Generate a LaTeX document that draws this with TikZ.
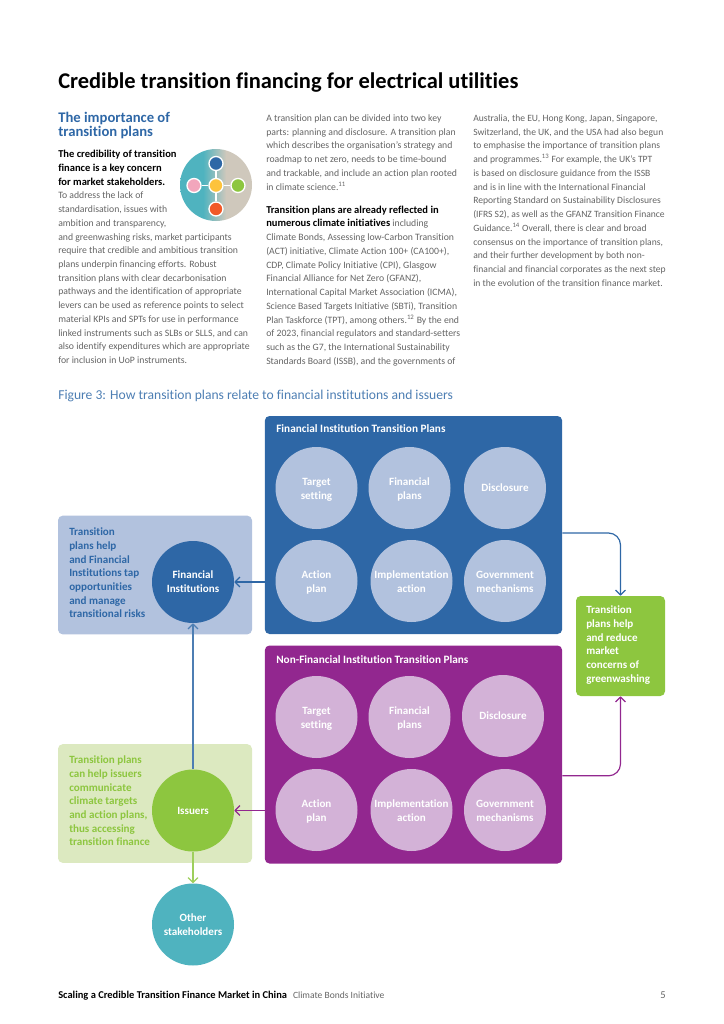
\documentclass[tikz,border=0pt]{standalone}
\usepackage{fontspec}
\setmainfont{Carlito}[Ligatures=NoCommon]
\usepackage{xcolor}
\usepackage{tikz}
\usetikzlibrary{shapes,arrows.meta,positioning,calc}
\definecolor{fiblue}{RGB}{46,103,166}
\definecolor{filight}{RGB}{178,194,222}
\definecolor{nfpurple}{RGB}{146,39,143}
\definecolor{nflight}{RGB}{211,178,215}
\definecolor{isgreen}{RGB}{141,198,63}
\definecolor{islight}{RGB}{220,233,192}
\definecolor{otherteal}{RGB}{79,179,191}
\definecolor{iconbeige}{RGB}{207,200,188}
\definecolor{iconpink}{RGB}{242,166,188}
\definecolor{iconyellow}{RGB}{253,195,60}
\definecolor{iconorange}{RGB}{241,90,41}
\definecolor{bodygrey}{RGB}{100,100,100}
\pgfdeclarehorizontalshading{iconshade}{100bp}{color(0bp)=(otherteal); color(41bp)=(otherteal); color(57bp)=(iconbeige); color(100bp)=(iconbeige)}
\newcommand{\leadin}[1]{{\fontsize{7.9}{10.3}\selectfont\bfseries\color{black}#1}}
\newcommand{\plantext}[2]{\raisebox{-3.6pt}[0pt][0pt]{\begin{tabular}{@{}c@{}}#1\\#2\end{tabular}}}

\begin{document}
\begin{tikzpicture}[x=0.75pt, y=-0.75pt, >={Straight Barb[length=3.6pt,width=7.5pt]}]
  \tikzstyle{body} = [anchor=north west, inner sep=0, align=left, text=bodygrey, font=\fontsize{7.3}{10.3}\selectfont]
  \tikzstyle{panel} = [rectangle, rounded corners=3.5pt, minimum width=223pt, minimum height=163.5pt]
  \tikzstyle{sidepanel} = [rectangle, rounded corners=3.5pt, minimum width=145.5pt, minimum height=89pt]
  \tikzstyle{plan} = [circle, minimum size=61.5pt, inner sep=0, align=center, text=white, font=\fontsize{8.3}{10.4}\selectfont\bfseries]
  \tikzstyle{actor} = [circle, minimum size=61.5pt, inner sep=0, align=center, text=white, font=\fontsize{8.3}{10.4}\selectfont\bfseries]
  \tikzstyle{sidetext} = [anchor=north west, inner sep=0, align=left, font=\fontsize{8.3}{10.3}\selectfont\bfseries]
  \tikzstyle{panelhead} = [anchor=west, inner sep=0, text=white, font=\fontsize{8.45}{10}\selectfont\bfseries]
  \tikzstyle{dot} = [circle, draw=white, line width=1pt, minimum size=10.5pt, inner sep=0]
  \tikzstyle{link} = [line width=0.9pt, ->]

  \useasboundingbox (0,0) rectangle (724,1024);

  % page text
  \node[anchor=base west, inner sep=0, font=\fontsize{16.85}{18}\selectfont\bfseries] (title) at (58,89) {Credible transition financing for electrical utilities};
  \node[anchor=north west, inner sep=0, align=left, text=fiblue, font=\fontsize{11}{10.7}\selectfont\bfseries] (head) at (58,111.5) {The importance of\\transition plans};
  \node[body] (col1) at (58,150) {\leadin{The credibility of transition}\\
    \leadin{finance is a key concern}\\
    \leadin{for market stakeholders.}\\
    To address the lack of\\
    standardisation, issues with\\
    ambition and transparency,\\
    and greenwashing risks, market participants\\
    require that credible and ambitious transition\\
    plans underpin financing efforts. Robust\\
    transition plans with clear decarbonisation\\
    pathways and the identification of appropriate\\
    levers can be used as reference points to select\\
    material KPIs and SPTs for use in performance\\
    linked instruments such as SLBs or SLLS, and can\\
    also identify expenditures which are appropriate\\
    for inclusion in UoP instruments.};
  \node[body] (col2a) at (266,114.5) {A transition plan can be divided into two key\\
    parts: planning and disclosure. A transition plan\\
    which describes the organisation's strategy and\\
    roadmap to net zero, needs to be time-bound\\
    and trackable, and include an action plan rooted\\
    in climate science.\textsuperscript{11}};
  \node[body] (col2b) at (266,205.5) {\leadin{Transition plans are already reflected in}\\
    \leadin{numerous climate initiatives} including\\
    Climate Bonds, Assessing low-Carbon Transition\\
    (ACT) initiative, Climate Action 100+ (CA100+),\\
    CDP, Climate Policy Initiative (CPI), Glasgow\\
    Financial Alliance for Net Zero (GFANZ),\\
    International Capital Market Association (ICMA),\\
    Science Based Targets Initiative (SBTi), Transition\\
    Plan Taskforce (TPT), among others.\textsuperscript{12} By the end\\
    of 2023, financial regulators and standard-setters\\
    such as the G7, the International Sustainability\\
    Standards Board (ISSB), and the governments of};
  \node[body, font=\fontsize{7.2}{10.3}\selectfont] (col3) at (473,114.5) {Australia, the EU, Hong Kong, Japan, Singapore,\\
    Switzerland, the UK, and the USA had also begun\\
    to emphasise the importance of transition plans\\
    and programmes.\textsuperscript{13} For example, the UK's TPT\\
    is based on disclosure guidance from the ISSB\\
    and is in line with the International Financial\\
    Reporting Standard on Sustainability Disclosures\\
    (IFRS S2), as well as the GFANZ Transition Finance\\
    Guidance.\textsuperscript{14} Overall, there is clear and broad\\
    consensus on the importance of transition plans,\\
    and their further development by both non-\\
    financial and financial corporates as the next step\\
    in the evolution of the transition finance market.};
  \node[anchor=base west, inner sep=0, text=fiblue!85, font=\fontsize{10.2}{13}\selectfont] (figtitle) at (58,399) {Figure 3: How transition plans relate to financial institutions and issuers};

  % icon
  \node[circle, minimum size=54pt, inner sep=0, shading=iconshade] (icon) at (216,185) {};
  \node[dot, fill=iconyellow] (ic) at (216,185.5) {};
  \node[dot, fill=fiblue] (it) at (216,163.5) {};
  \node[dot, fill=iconorange] (ib) at (216,209) {};
  \node[dot, fill=iconpink] (il) at (194,185.5) {};
  \node[dot, fill=isgreen] (ir) at (238,185.5) {};
  \draw[white, line width=1pt] (it) -- (ic) -- (ib) (il) -- (ic) -- (ir);

  % panels
  \node[panel, fill=fiblue] (fipanel) at (413.5,525) {};
  \node[panel, fill=nfpurple] (nfpanel) at (413.5,754.5) {};
  \node[sidepanel, fill=filight] (fiside) at (155,575) {};
  \node[sidepanel, fill=islight] (isside) at (155,803.5) {};
  \node[panelhead] (fihead) at (276,429) {Financial Institution Transition Plans};
  \node[panelhead] (nfhead) at (276,660) {Non-Financial Institution Transition Plans};

  \node[plan, fill=filight] (fi1) at (316.5,488) {\plantext{Target}{setting}};
  \node[plan, fill=filight] (fi2) at (409.5,488) {\plantext{Financial}{plans}};
  \node[plan, fill=filight] (fi3) at (505,488) {Disclosure};
  \node[plan, fill=filight] (fi4) at (316.5,581) {\plantext{Action}{plan}};
  \node[plan, fill=filight] (fi5) at (411.5,581) {\plantext{Implementation}{action}};
  \node[plan, fill=filight] (fi6) at (505,581) {\plantext{Government}{mechanisms}};

  \node[plan, fill=nflight] (nf1) at (316.5,717) {\plantext{Target}{setting}};
  \node[plan, fill=nflight] (nf2) at (409.5,717) {\plantext{Financial}{plans}};
  \node[plan, fill=nflight] (nf3) at (503,716) {Disclosure};
  \node[plan, fill=nflight] (nf4) at (316.5,810) {\plantext{Action}{plan}};
  \node[plan, fill=nflight] (nf5) at (411.5,810) {\plantext{Implementation}{action}};
  \node[plan, fill=nflight] (nf6) at (505,810) {\plantext{Government}{mechanisms}};

  \node[actor, fill=fiblue] (fin) at (193,582) {Financial\\Institutions};
  \node[actor, fill=isgreen] (iss) at (193,810.5) {Issuers};
  \node[actor, fill=otherteal] (oth) at (193,924.5) {Other\\stakeholders};

  \node[sidetext, text=fiblue] (fitext) at (69,527.5) {Transition\\plans help\\and Financial\\Institutions tap\\opportunities\\and manage\\transitional risks};
  \node[sidetext, text=isgreen] (istext) at (69,755.5) {Transition plans\\can help issuers\\communicate\\climate targets\\and action plans,\\thus accessing\\transition finance};

  \node[rectangle, rounded corners=3.5pt, minimum width=66.75pt, minimum height=75pt, fill=isgreen] (wash) at (620.5,646) {};
  \node[sidetext, text=white] (washtext) at (586,605.5) {Transition\\plans help\\and reduce\\market\\concerns of\\greenwashing};

  % connectors
  \draw[link, fiblue] (fipanel.west |- fin) -- (fin.east);
  \draw[link, nfpurple] (nfpanel.west |- iss) -- (iss.east);
  \draw[link, fiblue!85] (iss.north) -- (fin.south);
  \draw[link, isgreen!85!white] (iss.south) -- (oth.north);
  \draw[link, fiblue, rounded corners=9pt] ([yshift=-6pt]fipanel.east) -| (wash.north);
  \draw[link, nfpurple, rounded corners=9pt] ([yshift=-16pt]nfpanel.east) -| (wash.south);

  % footer
  \node[anchor=base west, inner sep=0, font=\fontsize{7.85}{9}\selectfont] (foot) at (58,998) {\textbf{Scaling a Credible Transition Finance Market in China}\hspace{4.5pt}\textcolor{bodygrey}{\fontsize{7.15}{9}\selectfont Climate Bonds Initiative}};
  \node[anchor=base east, inner sep=0, text=bodygrey, font=\fontsize{7.85}{9}\selectfont] (pageno) at (666,998) {5};
\end{tikzpicture}
\end{document}
